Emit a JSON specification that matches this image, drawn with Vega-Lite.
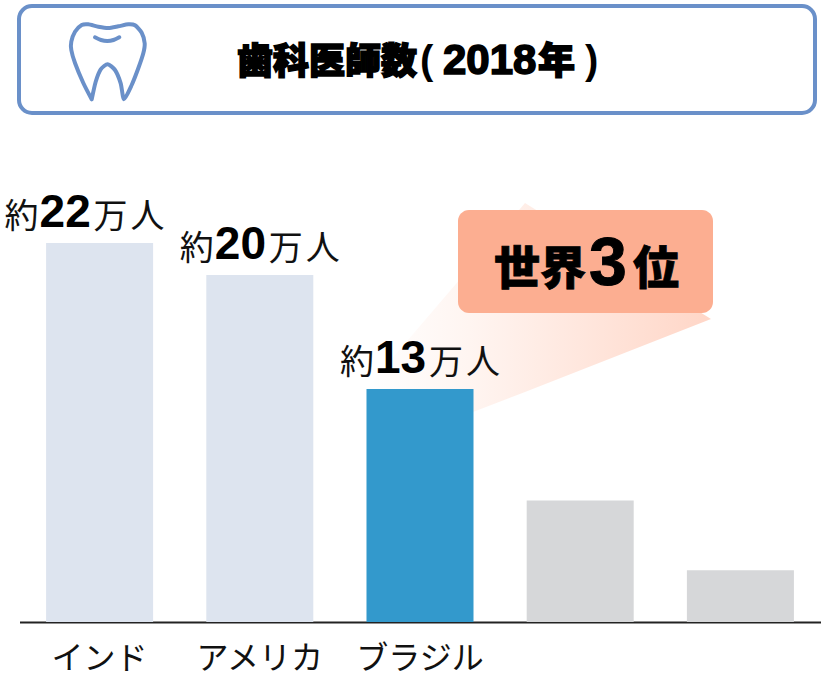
{
"$schema":"https://vega.github.io/schema/vega-lite/v6.json",
"width":822,"height":622,
"autosize":{"type":"none"},
"padding":{"left":0,"top":0,"right":0,"bottom":53},
"background":"white",
"config":{"view":{"stroke":null}},
"datasets":{
"bars":[
{"country":"インド","value":22.0,"num":"22","rank":1},
{"country":"アメリカ","value":20.14,"num":"20","rank":2},
{"country":"ブラジル","value":13.53,"num":"13","rank":3},
{"country":" ","value":7.05,"num":"","rank":4},
{"country":"  ","value":3.0,"num":"","rank":5}
]
},
"resolve":{"scale":{"x":"independent","y":"independent"},"axis":{"x":"independent","y":"independent"}},
"layer":[
{"data":{"values":[
{"px":366,"top":389,"bottom":400},
{"px":473,"top":264,"bottom":412},
{"px":525,"top":203,"bottom":392},
{"px":711,"top":319,"bottom":319}
]},
"mark":{"type":"area","interpolate":"linear","color":{"gradient":"linear","x1":0,"x2":1,"y1":0,"y2":0,"stops":[{"offset":0,"color":"#ffffff"},{"offset":0.3,"color":"#fff5f1"},{"offset":1,"color":"#ffd6c7"}]}},
"encoding":{
"x":{"field":"px","type":"quantitative","axis":null,"scale":{"domain":[0,822],"nice":false,"zero":false}},
"y":{"field":"top","type":"quantitative","axis":null,"scale":{"domain":[622,0],"nice":false,"zero":false}},
"y2":{"field":"bottom"}
}},
{"data":{"name":"bars"},
"mark":{"type":"bar"},
"encoding":{
"x":{"field":"country","type":"nominal","sort":null,"title":null,
"scale":{"type":"band","domain":["インド","アメリカ","ブラジル"," ","  "],"range":[19.5,820.5],"paddingInner":0.332,"paddingOuter":0.166},
"axis":{"orient":"bottom","title":null,"ticks":false,"grid":false,"domain":true,"domainColor":"#222222","domainWidth":2,"labelAngle":0,"labelFont":"Noto Sans CJK JP","labelFontSize":32,"labelColor":"#111111","labelBaseline":"alphabetic","labelPadding":46,"labelOverlap":false,"labelBound":false,"labelFlush":false}},
"y":{"field":"value","type":"quantitative","axis":null,"scale":{"domain":[0,36.1],"nice":false,"zero":true}},
"color":{"field":"rank","type":"ordinal","legend":null,"scale":{"domain":[1,2,3,4,5],"range":["#dde4ef","#dde4ef","#3399cc","#d6d7d9","#d6d7d9"]}}
}},
{"data":{"values":[{"x1":19,"x2":815,"y1":6,"y2":113}]},
"mark":{"type":"rect","fill":"#ffffff","stroke":"#6a90c9","strokeWidth":4,"cornerRadius":13},
"encoding":{
"x":{"field":"x1","type":"quantitative","axis":null,"scale":{"domain":[0,822],"nice":false,"zero":false}},
"x2":{"field":"x2"},
"y":{"field":"y1","type":"quantitative","axis":null,"scale":{"domain":[622,0],"nice":false,"zero":false}},
"y2":{"field":"y2"}
}},
{"data":{"values":[
{"i":1,"px":91.7,"py":99.3},{"i":2,"px":83.3,"py":83},{"i":3,"px":75,"py":63},{"i":4,"px":71.3,"py":50},{"i":5,"px":71.3,"py":41.7},{"i":6,"px":75,"py":31.7},{"i":7,"px":81.7,"py":25},{"i":8,"px":88.3,"py":24.3},{"i":9,"px":98.3,"py":26.7},{"i":10,"px":108.3,"py":28},{"i":11,"px":118.3,"py":26.3},{"i":12,"px":128.3,"py":24.3},{"i":13,"px":135,"py":25.3},{"i":14,"px":141.7,"py":32.7},{"i":15,"px":144.7,"py":43.3},{"i":16,"px":143.3,"py":53.3},{"i":17,"px":138.3,"py":68.3},{"i":18,"px":131.7,"py":85},{"i":19,"px":124,"py":99.3},{"i":20,"px":120.7,"py":83.3},{"i":21,"px":115,"py":70},{"i":22,"px":107.7,"py":64.3},{"i":23,"px":100.7,"py":69.3},{"i":24,"px":95.7,"py":81.7},{"i":25,"px":91.7,"py":99.3}
]},
"mark":{"type":"line","stroke":"#6a90c9","strokeWidth":4,"strokeCap":"round","strokeJoin":"round","interpolate":"cardinal","tension":0.3},
"encoding":{
"x":{"field":"px","type":"quantitative","axis":null,"scale":{"domain":[0,822],"nice":false,"zero":false}},
"y":{"field":"py","type":"quantitative","axis":null,"scale":{"domain":[622,0],"nice":false,"zero":false}},
"order":{"field":"i"}
}},
{"data":{"values":[{"i":1,"px":95,"py":37.3},{"i":2,"px":101,"py":40},{"i":3,"px":107.3,"py":41},{"i":4,"px":113.5,"py":40},{"i":5,"px":119.3,"py":37.3}]},
"mark":{"type":"line","stroke":"#6a90c9","strokeWidth":4,"strokeCap":"round","interpolate":"monotone"},
"encoding":{
"x":{"field":"px","type":"quantitative","axis":null,"scale":{"domain":[0,822],"nice":false,"zero":false}},
"y":{"field":"py","type":"quantitative","axis":null,"scale":{"domain":[622,0],"nice":false,"zero":false}},
"order":{"field":"i"}
}},
{"data":{"values":[{"x1":458,"x2":713,"y1":210,"y2":313}]},
"mark":{"type":"rect","fill":"#fcae91","cornerRadius":11},
"encoding":{
"x":{"field":"x1","type":"quantitative","axis":null,"scale":{"domain":[0,822],"nice":false,"zero":false}},
"x2":{"field":"x2"},
"y":{"field":"y1","type":"quantitative","axis":null,"scale":{"domain":[622,0],"nice":false,"zero":false}},
"y2":{"field":"y2"}
}},
{"data":{"values":[{"t":"歯科医師数","px":237,"py":74}]},
"mark":{"type":"text","align":"left","baseline":"alphabetic","font":"Noto Sans CJK JP","fontWeight":900,"fontSize":36,"fill":"#000000","stroke":"#000000","strokeWidth":1.6},
"encoding":{"text":{"field":"t"},
"x":{"field":"px","type":"quantitative","axis":null,"scale":{"domain":[0,822],"nice":false,"zero":false}},
"y":{"field":"py","type":"quantitative","axis":null,"scale":{"domain":[622,0],"nice":false,"zero":false}}}},
{"data":{"values":[{"t":"2018","px":443,"py":74}]},
"mark":{"type":"text","align":"left","baseline":"alphabetic","font":"Liberation Sans","fontWeight":"bold","fontSize":42,"fill":"#000000","stroke":"#000000","strokeWidth":1.6},
"encoding":{"text":{"field":"t"},
"x":{"field":"px","type":"quantitative","axis":null,"scale":{"domain":[0,822],"nice":false,"zero":false}},
"y":{"field":"py","type":"quantitative","axis":null,"scale":{"domain":[622,0],"nice":false,"zero":false}}}},
{"data":{"values":[{"t":"年","px":538,"py":74}]},
"mark":{"type":"text","align":"left","baseline":"alphabetic","font":"Noto Sans CJK JP","fontWeight":900,"fontSize":37,"fill":"#000000","stroke":"#000000","strokeWidth":1.6},
"encoding":{"text":{"field":"t"},
"x":{"field":"px","type":"quantitative","axis":null,"scale":{"domain":[0,822],"nice":false,"zero":false}},
"y":{"field":"py","type":"quantitative","axis":null,"scale":{"domain":[622,0],"nice":false,"zero":false}}}},
{"data":{"values":[{"t":"(","px":420,"py":74},{"t":")","px":585,"py":74}]},
"mark":{"type":"text","align":"left","baseline":"alphabetic","font":"Liberation Sans","fontWeight":"bold","fontSize":40,"fill":"#000000"},
"encoding":{"text":{"field":"t"},
"x":{"field":"px","type":"quantitative","axis":null,"scale":{"domain":[0,822],"nice":false,"zero":false}},
"y":{"field":"py","type":"quantitative","axis":null,"scale":{"domain":[622,0],"nice":false,"zero":false}}}},
{"data":{"values":[{"t":"世界","px":494,"py":284},{"t":"位","px":633,"py":284}]},
"mark":{"type":"text","align":"left","baseline":"alphabetic","font":"Noto Sans CJK JP","fontWeight":900,"fontSize":46,"fill":"#000000","stroke":"#000000","strokeWidth":0.8},
"encoding":{"text":{"field":"t"},
"x":{"field":"px","type":"quantitative","axis":null,"scale":{"domain":[0,822],"nice":false,"zero":false}},
"y":{"field":"py","type":"quantitative","axis":null,"scale":{"domain":[622,0],"nice":false,"zero":false}}}},
{"data":{"values":[{"t":"3","px":589,"py":285}]},
"mark":{"type":"text","align":"left","baseline":"alphabetic","font":"Liberation Sans","fontWeight":"bold","fontSize":68,"fill":"#000000","stroke":"#000000","strokeWidth":1},
"encoding":{"text":{"field":"t"},
"x":{"field":"px","type":"quantitative","axis":null,"scale":{"domain":[0,822],"nice":false,"zero":false}},
"y":{"field":"py","type":"quantitative","axis":null,"scale":{"domain":[622,0],"nice":false,"zero":false}}}},
{"data":{"name":"bars"},"transform":[{"filter":"datum.rank==1"}],
"layer":[
{"mark":{"type":"text","text":"約","align":"right","baseline":"alphabetic","font":"Noto Sans CJK JP","fontSize":34,"dx":-61,"dy":-15,"fill":"#111111"}},
{"mark":{"type":"text","align":"left","baseline":"alphabetic","font":"Liberation Sans","fontWeight":"bold","fontSize":46,"dx":-60,"dy":-16,"fill":"#000000"},"encoding":{"text":{"field":"num"}}},
{"mark":{"type":"text","text":"万","align":"left","baseline":"alphabetic","font":"Noto Sans CJK JP","fontSize":34,"dx":-6,"dy":-15,"fill":"#111111"}},
{"mark":{"type":"text","text":"人","align":"left","baseline":"alphabetic","font":"Noto Sans CJK JP","fontSize":34,"dx":31,"dy":-15,"fill":"#111111"}}
],
"encoding":{
"x":{"field":"country","type":"nominal","axis":null,"scale":{"type":"band","domain":["インド","アメリカ","ブラジル"," ","  "],"range":[19.5,820.5],"paddingInner":0.332,"paddingOuter":0.166}},
"y":{"field":"value","type":"quantitative","axis":null,"scale":{"domain":[0,36.1],"nice":false,"zero":true}}
}},
{"data":{"name":"bars"},"transform":[{"filter":"datum.rank==2||datum.rank==3"}],
"layer":[
{"mark":{"type":"text","text":"約","align":"right","baseline":"alphabetic","font":"Noto Sans CJK JP","fontSize":34,"dx":-46,"dy":-15,"fill":"#111111"}},
{"mark":{"type":"text","align":"left","baseline":"alphabetic","font":"Liberation Sans","fontWeight":"bold","fontSize":46,"dx":-45,"dy":-16,"fill":"#000000"},"encoding":{"text":{"field":"num"}}},
{"mark":{"type":"text","text":"万","align":"left","baseline":"alphabetic","font":"Noto Sans CJK JP","fontSize":34,"dx":9,"dy":-15,"fill":"#111111"}},
{"mark":{"type":"text","text":"人","align":"left","baseline":"alphabetic","font":"Noto Sans CJK JP","fontSize":34,"dx":46,"dy":-15,"fill":"#111111"}}
],
"encoding":{
"x":{"field":"country","type":"nominal","axis":null,"scale":{"type":"band","domain":["インド","アメリカ","ブラジル"," ","  "],"range":[19.5,820.5],"paddingInner":0.332,"paddingOuter":0.166}},
"y":{"field":"value","type":"quantitative","axis":null,"scale":{"domain":[0,36.1],"nice":false,"zero":true}}
}}
]
}
